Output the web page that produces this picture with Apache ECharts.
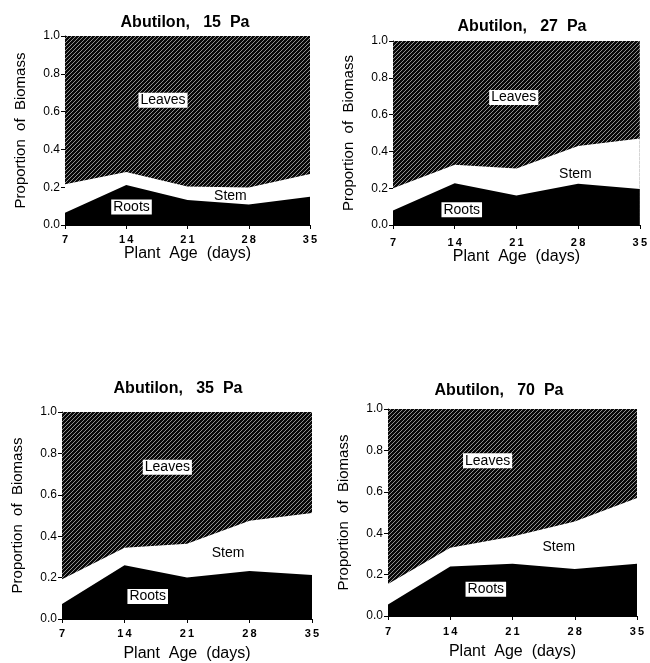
<!DOCTYPE html>
<html>
<head>
<meta charset="utf-8">
<script src="https://cdn.jsdelivr.net/npm/echarts@6/dist/echarts.min.js"></script>
<style>
  html, body { margin: 0; padding: 0; background: #fff; }
  #chart { width: 650px; height: 663px; }
</style>
</head>
<body>
<div id="chart"></div>
<script>
// plant age (days)
const days = [7, 14, 21, 28, 35];
const yTicks = [0, 0.2, 0.4, 0.6, 0.8, 1.0];

const titles = ['Abutilon,   15  Pa', 'Abutilon,   27  Pa', 'Abutilon,   35  Pa', 'Abutilon,   70  Pa'];

// cumulative tops of each band
const rootsTop = [
  [0.065, 0.212, 0.132, 0.108, 0.150],
  [0.079, 0.227, 0.160, 0.224, 0.195],
  [0.072, 0.260, 0.200, 0.232, 0.213],
  [0.056, 0.239, 0.252, 0.227, 0.252]
];
const stemTop = [
  [0.216, 0.281, 0.204, 0.199, 0.270],
  [0.200, 0.327, 0.307, 0.430, 0.470],
  [0.192, 0.344, 0.363, 0.475, 0.512],
  [0.155, 0.330, 0.384, 0.456, 0.570]
];
const leavesTop = [
  [1, 1, 1, 1, 1],
  [1, 1, 1, 1, 1],
  [1, 1, 1, 1, 1],
  [1, 1, 1, 1, 1]
];

// label anchors [day, proportion]
const leavesLabel = [[18.2, 0.66], [20.7, 0.693], [18.8, 0.733], [18.2, 0.75]];
const stemLabel   = [[25.9, 0.155], [27.7, 0.278], [25.6, 0.32], [26.2, 0.332]];
const rootsLabel  = [[14.6, 0.095], [14.8, 0.083], [16.6, 0.109], [18.0, 0.129]];

// panel layout
const grids = [
  { left: 65,  top: 36,  width: 245, height: 189 },
  { left: 393, top: 41,  width: 249, height: 184 },
  { left: 62,  top: 412, width: 250, height: 208 },
  { left: 388, top: 409, width: 249, height: 207 }
];
const titlePos = [[180, 10], [517, 14], [173, 376], [494, 378]];
const xLabelMargin = [9, 12, 9, 10];
const xNameGap = [19, 24, 27, 28];

// hatch pattern for leaves
function makeHatch() {
  const c = document.createElement('canvas');
  c.width = 4; c.height = 4;
  const g = c.getContext('2d');
  g.fillStyle = '#080808';
  g.fillRect(0, 0, 4, 4);
  g.strokeStyle = '#b4b4b4';
  g.lineWidth = 0.8;
  g.beginPath();
  g.moveTo(-1, 1); g.lineTo(1, -1);
  g.moveTo(0, 4); g.lineTo(4, 0);
  g.moveTo(3, 5); g.lineTo(5, 3);
  g.stroke();
  return c;
}
const hatch = { image: makeHatch(), repeat: 'repeat' };

const font = 'Liberation Sans, Arial, Helvetica, sans-serif';

function boxLabel(name, coord, boxed) {
  return {
    coord: coord,
    symbolSize: 0,
    label: {
      show: true,
      position: 'inside',
      formatter: name,
      color: '#000',
      fontFamily: font,
      fontSize: 14,
      backgroundColor: boxed ? '#fff' : 'transparent',
      padding: [1, 2, 0, 2]
    }
  };
}

const option = {
  animation: false,
  backgroundColor: '#fff',
  title: titles.map((t, i) => ({
    text: t,
    left: titlePos[i][0],
    top: titlePos[i][1],
    textAlign: 'center',
    textStyle: { fontFamily: font, fontSize: 16, fontWeight: 'bold', color: '#000' }
  })),
  grid: grids,
  xAxis: grids.map((g, i) => ({
    type: 'value',
    gridIndex: i,
    min: 7,
    max: 35,
    interval: 7,
    name: 'Plant  Age  (days)',
    nameLocation: 'middle',
    nameGap: xNameGap[i],
    nameTextStyle: { fontFamily: font, fontSize: 16, color: '#000' },
    axisLine: { show: true, lineStyle: { color: '#000', width: 1 } },
    axisTick: { show: true, length: 4, lineStyle: { color: '#000' } },
    axisLabel: {
      fontFamily: font, fontSize: 11, fontWeight: 'bold', color: '#000',
      margin: xLabelMargin[i],
      formatter: v => String(v).split('').join('\u2009')
    },
    splitLine: { show: false }
  })),
  yAxis: grids.map((g, i) => ({
    type: 'value',
    gridIndex: i,
    min: yTicks[0],
    max: yTicks[yTicks.length - 1],
    interval: 0.2,
    name: 'Proportion  of  Biomass',
    nameLocation: 'middle',
    nameGap: 37,
    nameTextStyle: { fontFamily: font, fontSize: 15, color: '#000' },
    axisLine: { show: true, lineStyle: { color: '#000', width: 1 } },
    axisTick: { show: true, length: 4, lineStyle: { color: '#000' } },
    axisLabel: { fontFamily: font, fontSize: 12, color: '#000', margin: 5, formatter: v => v.toFixed(1) },
    splitLine: { show: false }
  })),
  series: []
};

for (let i = 0; i < 4; i++) {
  const pts = arr => days.map((d, k) => [d, arr[k]]);
  option.series.push({
    type: 'line', xAxisIndex: i, yAxisIndex: i, z: 1,
    data: pts(leavesTop[i]), symbol: 'none',
    lineStyle: { width: 0 },
    areaStyle: { color: hatch, opacity: 1 },
    markPoint: { data: [boxLabel('Leaves', leavesLabel[i], true)] }
  });
  option.series.push({
    type: 'line', xAxisIndex: i, yAxisIndex: i, z: 2,
    data: pts(stemTop[i]), symbol: 'none',
    lineStyle: { width: 0 },
    areaStyle: { color: '#fff', opacity: 1 },
    markPoint: { data: [boxLabel('Stem', stemLabel[i], false)] }
  });
  option.series.push({
    type: 'line', xAxisIndex: i, yAxisIndex: i, z: 3,
    data: pts(rootsTop[i]), symbol: 'none',
    lineStyle: { width: 0 },
    areaStyle: { color: '#000', opacity: 1 },
    markPoint: { data: [boxLabel('Roots', rootsLabel[i], true)] }
  });
}

const chart = echarts.init(document.getElementById('chart'));
chart.setOption(option);
window.addEventListener('resize', () => chart.resize());
</script>
</body>
</html>
